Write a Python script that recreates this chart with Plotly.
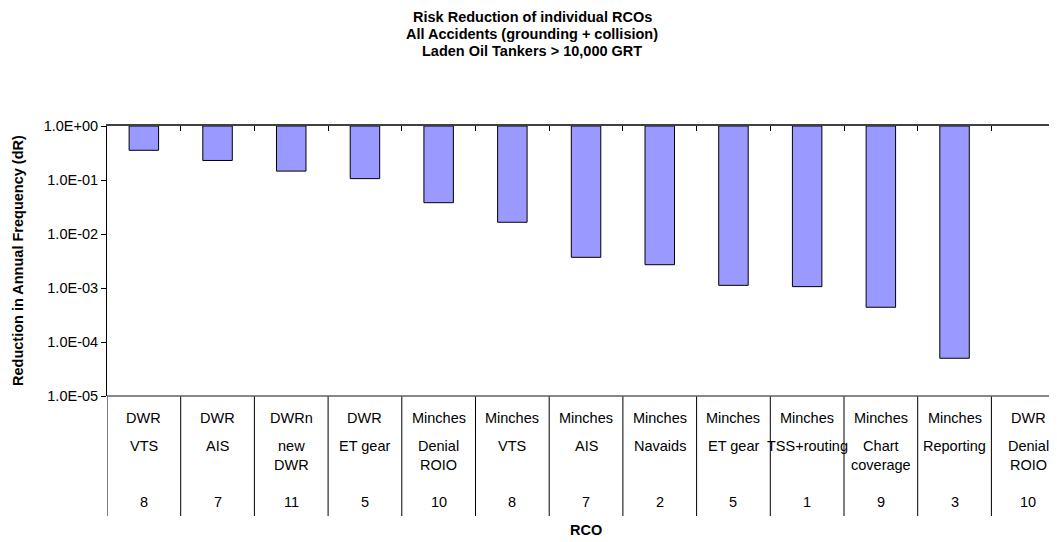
import plotly.graph_objects as go

# ---- data ----
region = ["DWR", "DWR", "DWRn", "DWR", "Minches", "Minches", "Minches",
          "Minches", "Minches", "Minches", "Minches", "Minches", "DWR"]
rco_name = ["VTS", "AIS", "new<br>DWR", "ET gear", "Denial<br>ROIO", "VTS", "AIS",
            "Navaids", "ET gear", "TSS+routing", "Chart<br>coverage", "Reporting",
            "Denial<br>ROIO"]
rco_num = ["8", "7", "11", "5", "10", "8", "7", "2", "5", "1", "9", "3", "10"]
dR = [0.355, 0.23, 0.146, 0.106, 0.038, 0.0165, 0.0037, 0.0027,
      0.00112, 0.00106, 0.00044, 0.00005, None]
ytick_vals = [1e-5, 1e-4, 1e-3, 1e-2, 1e-1, 1e0]
ytick_text = ["1.0E-05", "1.0E-04", "1.0E-03", "1.0E-02", "1.0E-01", "1.0E+00"]
title_lines = ["Risk Reduction of individual RCOs",
               "All Accidents (grounding + collision)",
               "Laden Oil Tankers > 10,000 GRT"]

FONT = "Liberation Sans, Arial, sans-serif"
FS = 14.5

# page body has an 8px margin: figure is placed at (8, 8)
OFF = 8
W, H = 1057 - OFF, 542 - OFF

n = len(region)
xs = list(range(n))
base = 1.0
bar_len = [(v - base) if v is not None else None for v in dR]

fig = go.Figure()
fig.add_trace(go.Bar(
    x=xs, y=bar_len, base=[base] * n, width=0.4,
    marker=dict(color="#9999FF", line=dict(color="black", width=1)),
    hoverinfo="skip", showlegend=False,
))

# category table
annotations = []
for i in range(n):
    annotations.append(dict(x=i, xref="x", y=0, yref="paper", text=region[i],
                            showarrow=False, yanchor="middle", yshift=-22,
                            font=dict(family=FONT, size=FS, color="black")))
    annotations.append(dict(x=i, xref="x", y=0, yref="paper", text=rco_name[i],
                            showarrow=False, yanchor="top", yshift=-40,
                            font=dict(family=FONT, size=FS, color="black")))
    annotations.append(dict(x=i, xref="x", y=0, yref="paper", text=rco_num[i],
                            showarrow=False, yanchor="middle", yshift=-106,
                            font=dict(family=FONT, size=FS, color="black")))

annotations.append(dict(x=(n - 1) / 2, xref="x", y=0, yref="paper", text="<b>RCO</b>",
                        showarrow=False, yanchor="middle", yshift=-134,
                        font=dict(family=FONT, size=FS, color="black")))
annotations.append(dict(x=0, xref="paper", xshift=-89, y=0.5, yref="paper",
                        text="<b>Reduction in Annual Frequency (dR)</b>", textangle=-90,
                        showarrow=False, xanchor="center", yanchor="middle",
                        font=dict(family=FONT, size=FS, color="black")))

# chart title (one annotation per line to match line spacing)
title_cx = (532 - 107) / 950
for k, line in enumerate(title_lines):
    annotations.append(dict(x=title_cx, xref="paper", y=1, yref="paper",
                            yshift=126 - (17 + 17 * k), text="<b>" + line + "</b>",
                            showarrow=False, xanchor="center", yanchor="middle",
                            font=dict(family=FONT, size=FS, color="black")))

shapes = []
for i in range(n):
    shapes.append(dict(type="line", xref="x", x0=i - 0.5, x1=i - 0.5,
                       yref="paper", y0=0, y1=-120 / 270,
                       line=dict(color="black", width=1)))
shapes.append(dict(type="line", xref="paper", x0=0, x1=1, yref="paper", y0=0, y1=0,
                   line=dict(color="#606060", width=1.5)))

fig.update_layout(
    width=W, height=H,
    margin=dict(l=107 - OFF, r=0, t=126 - OFF, b=542 - 396, pad=0),
    paper_bgcolor="white", plot_bgcolor="white",
    xaxis=dict(range=[-0.5, -0.5 + 950 / 73.7], side="top", showline=True,
               linecolor="#404040", linewidth=1.5, showgrid=False, zeroline=False,
               tickmode="array", tickvals=[i - 0.5 for i in range(n + 1)],
               ticks="inside", ticklen=5, tickcolor="black", showticklabels=False),
    yaxis=dict(type="log", range=[-5, 0], showline=True, linecolor="black",
               linewidth=1, showgrid=False, zeroline=False,
               tickmode="array", tickvals=ytick_vals, ticktext=ytick_text,
               ticks="outside", ticklen=5, tickcolor="black",
               tickfont=dict(family=FONT, size=FS, color="black")),
    annotations=annotations, shapes=shapes,
    bargap=0.6,
)

fig.write_html("out.html")
